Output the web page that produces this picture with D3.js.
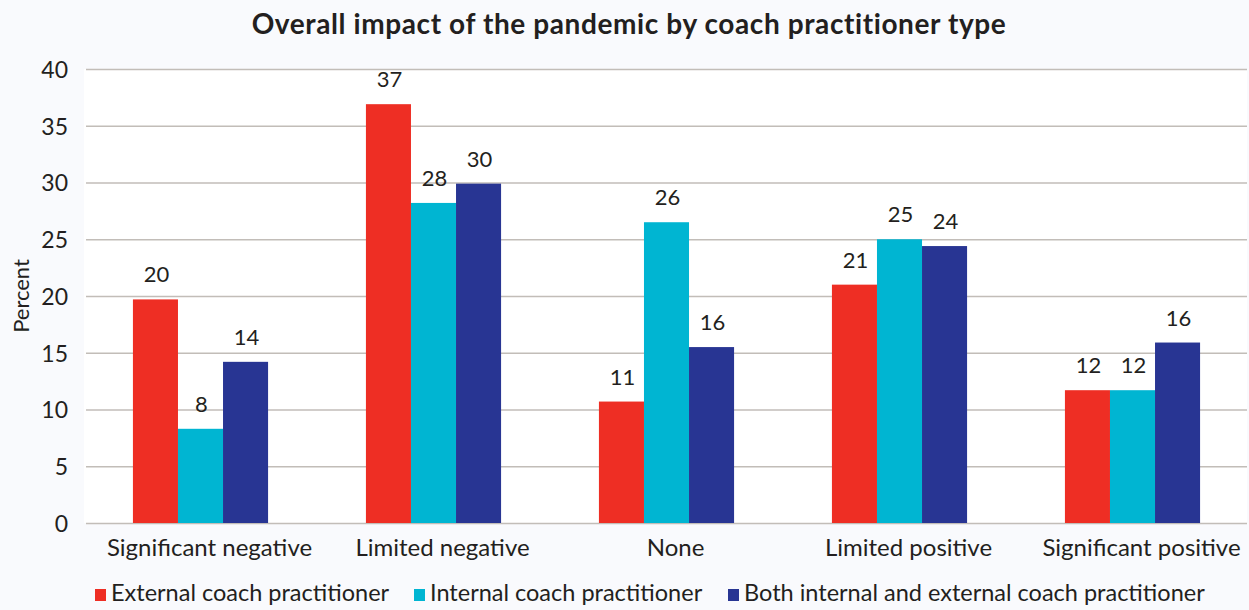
<!DOCTYPE html>
<html lang="en">
  <head>
    <meta charset="utf-8">
    <title>Overall impact of the pandemic</title>
    <script src="https://d3js.org/d3.v7.min.js"></script>
    <style media="screen" type="text/css">
      body {
        margin: 0;
        background: #f9fafd;
      }
      svg text {
        font-family: Lato, "Open Sans", sans-serif;
        fill: #231f20;
      }
    </style>
  </head>
  <body>
    <div id="chart"></div>
    <script type="text/javascript">
      // Data
      const categories = ['Significant negative', 'Limited negative', 'None', 'Limited positive', 'Significant positive'];
      const seriesNames = ['External coach practitioner', 'Internal coach practitioner', 'Both internal and external coach practitioner'];
      const external = [19.7, 36.9, 10.7, 21.0, 11.7];
      const internal = [8.3, 28.2, 26.5, 25.0, 11.7];
      const both = [14.2, 29.9, 15.5, 24.4, 15.9];
      const labels = [
        [20, 37, 11, 21, 12],
        [8, 28, 26, 25, 12],
        [14, 30, 16, 24, 16]
      ];
      const yTicks = [0, 5, 10, 15, 20, 25, 30, 35, 40];
      const colors = ['#ee2e24', '#00b5d2', '#283593'];

      const series = [external, internal, both];

      const width = 1249, height = 610;
      const margin = { top: 69, right: 0, bottom: 87, left: 84 };

      const svg = d3.select('#chart')
        .append('svg')
        .attr('width', width)
        .attr('height', height);

      const x = d3.scaleBand()
        .domain(categories)
        .range([margin.left, width - margin.right])
        .paddingInner(0.42)
        .paddingOuter(0.21);

      const xs = d3.scaleBand()
        .domain(d3.range(series.length))
        .range([0, x.bandwidth()]);

      const y = d3.scaleLinear()
        .domain([0, 40])
        .range([height - margin.bottom, margin.top]);

      // plot area
      svg.append('rect')
        .attr('x', margin.left)
        .attr('y', y(40))
        .attr('width', width - margin.left - 2)
        .attr('height', y(0) - y(40))
        .attr('fill', '#ffffff');

      // gridlines
      svg.append('g')
        .attr('transform', `translate(${margin.left + 2},0)`)
        .call(d3.axisLeft(y).tickValues(yTicks).tickSize(-(width - margin.left - 4)).tickFormat(''))
        .call(g => g.select('.domain').remove())
        .call(g => g.selectAll('line').attr('stroke', '#c2bdb8').attr('stroke-width', 1.5));

      // y tick labels
      svg.append('g')
        .attr('transform', `translate(68,0)`)
        .call(d3.axisLeft(y).tickValues(yTicks).tickSize(0).tickPadding(0))
        .call(g => g.select('.domain').remove())
        .call(g => g.selectAll('text').attr('font-size', 23).attr('dy', '0.36em'));

      // bars
      const groups = svg.append('g')
        .selectAll('g')
        .data(series)
        .join('g')
        .attr('fill', (d, i) => colors[i]);

      groups.selectAll('rect')
        .data((d, i) => d.map((v, j) => ({ v, j, i })))
        .join('rect')
        .attr('x', d => x(categories[d.j]) + xs(d.i))
        .attr('y', d => y(d.v))
        .attr('width', xs.bandwidth())
        .attr('height', d => y(0) - y(d.v));

      // value labels
      groups.selectAll('text')
        .data((d, i) => d.map((v, j) => ({ v, j, i })))
        .join('text')
        .attr('x', d => x(categories[d.j]) + xs(d.i) + xs.bandwidth() / 2 + 1)
        .attr('y', d => y(d.v) - 17)
        .attr('text-anchor', 'middle')
        .attr('font-size', 22)
        .text(d => labels[d.i][d.j]);

      // x axis labels
      svg.append('g')
        .attr('transform', `translate(9,${y(0) + 33})`)
        .call(d3.axisBottom(x).tickSize(0).tickPadding(0))
        .call(g => g.select('.domain').remove())
        .call(g => g.selectAll('text').attr('font-size', 24).attr('dy', 0));

      // y axis title
      svg.append('text')
        .attr('transform', `translate(29,${(y(0) + y(40)) / 2}) rotate(-90)`)
        .attr('text-anchor', 'middle')
        .attr('font-size', 22)
        .text('Percent');

      // title
      svg.append('text')
        .attr('x', 629)
        .attr('y', 34)
        .attr('text-anchor', 'middle')
        .attr('font-size', 28)
        .attr('font-weight', 'bold')
        .attr('letter-spacing', 0.6)
        .text('Overall impact of the pandemic by coach practitioner type');

      // legend
      const legendX = [95, 414, 728];
      const legend = svg.append('g')
        .selectAll('g')
        .data(seriesNames)
        .join('g')
        .attr('transform', (d, i) => `translate(${legendX[i]},589)`);

      legend.append('rect')
        .attr('width', 11)
        .attr('height', 12)
        .attr('fill', (d, i) => colors[i]);

      legend.append('text')
        .attr('x', 16)
        .attr('y', 12)
        .attr('font-size', 23.5)
        .text(d => d);
    </script>
  </body>
</html>
